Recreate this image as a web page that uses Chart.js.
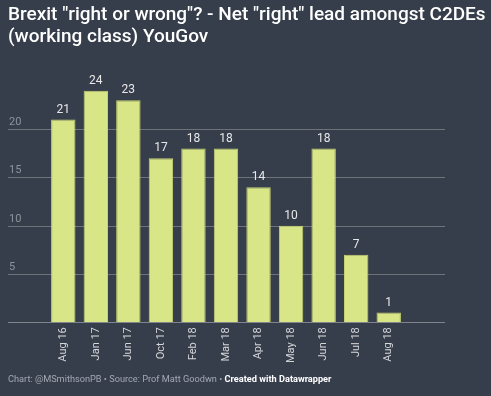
<!DOCTYPE html>
<html>
<head>
<meta charset="utf-8">
<script src="https://cdn.jsdelivr.net/npm/chart.js@4"></script>
<style>
  html, body { margin: 0; padding: 0; background: #363e4b; }
  #wrap { position: relative; width: 491px; height: 396px; overflow: hidden; font-family: Roboto, sans-serif; }
  #title { position: absolute; left: 8px; top: 3px; width: 480px; color: #ffffff; font-size: 19px; font-weight: 500; line-height: 22px; }
  #footer { position: absolute; left: 8px; top: 373px; color: #a3a8b0; font-size: 9.2px; }
  #footer b { color: #ffffff; font-weight: 700; }
  #chart { position: absolute; left: 0; top: 0; }
</style>
</head>
<body>
<div id="wrap">
  <canvas id="chart" width="491" height="396"></canvas>
  <div id="title">Brexit "right or wrong"? - Net "right" lead amongst C2DEs (working class) YouGov</div>
  <div id="footer">Chart: @MSmithsonPB • Source: Prof Matt Goodwn • <b>Created with Datawrapper</b></div>
</div>
<script>
const months = ['Aug 16', 'Jan 17', 'Jun 17', 'Oct 17', 'Feb 18', 'Mar 18', 'Apr 18', 'May 18', 'Jun 18', 'Jul 18', 'Aug 18'];
const netRight = [21, 24, 23, 17, 18, 18, 14, 10, 18, 7, 1];
const yTicks = [5, 10, 15, 20];

// gridlines + y labels drawn across the full width, like datawrapper
const gridPlugin = {
  id: 'grid',
  beforeDatasetsDraw(chart) {
    const ctx = chart.ctx;
    const y = chart.scales.y;
    ctx.save();
    ctx.strokeStyle = '#6e737a';
    ctx.lineWidth = 1;
    ctx.font = '11px Roboto';
    ctx.fillStyle = '#8d939b';
    ctx.textBaseline = 'alphabetic';
    yTicks.forEach((t) => {
      const py = Math.round(y.getPixelForValue(t)) + 0.5;
      ctx.beginPath();
      ctx.moveTo(8, py);
      ctx.lineTo(445, py);
      ctx.stroke();
      ctx.fillText(String(t), 9, py - 5);
    });
    const base = Math.round(y.getPixelForValue(0)) + 0.5;
    ctx.strokeStyle = '#80858c';
    ctx.beginPath();
    ctx.moveTo(8, base);
    ctx.lineTo(445, base);
    ctx.stroke();
    ctx.restore();
  },
  afterDatasetsDraw(chart) {
    const ctx = chart.ctx;
    const meta = chart.getDatasetMeta(0);
    ctx.save();
    ctx.font = '12px Roboto';
    ctx.fillStyle = '#e8e8e8';
    ctx.textAlign = 'center';
    ctx.textBaseline = 'bottom';
    meta.data.forEach((bar, i) => {
      ctx.fillText(String(netRight[i]), bar.x, bar.y - 4);
    });
    ctx.restore();
  },
};

new Chart(document.getElementById('chart'), {
  type: 'bar',
  data: {
    labels: months,
    datasets: [{
      data: netRight,
      backgroundColor: '#d9e687',
      borderColor: '#c6d172',
      borderWidth: 1,
      barPercentage: 0.75,
      categoryPercentage: 1,
    }],
  },
  options: {
    responsive: false,
    animation: false,
    devicePixelRatio: 1,
    layout: { padding: { left: 47, right: 86, top: 81, bottom: 28 } },
    plugins: { legend: { display: false }, tooltip: { enabled: false } },
    scales: {
      x: {
        grid: { display: false, drawTicks: false },
        border: { display: false },
        ticks: {
          color: '#d4d6d9',
          font: { family: 'Roboto', size: 11 },
          minRotation: 90,
          maxRotation: 90,
          padding: 5,
          autoSkip: false,
        },
      },
      y: {
        display: false,
        min: 0,
        max: 25,
      },
    },
  },
  plugins: [gridPlugin],
});
</script>
</body>
</html>
